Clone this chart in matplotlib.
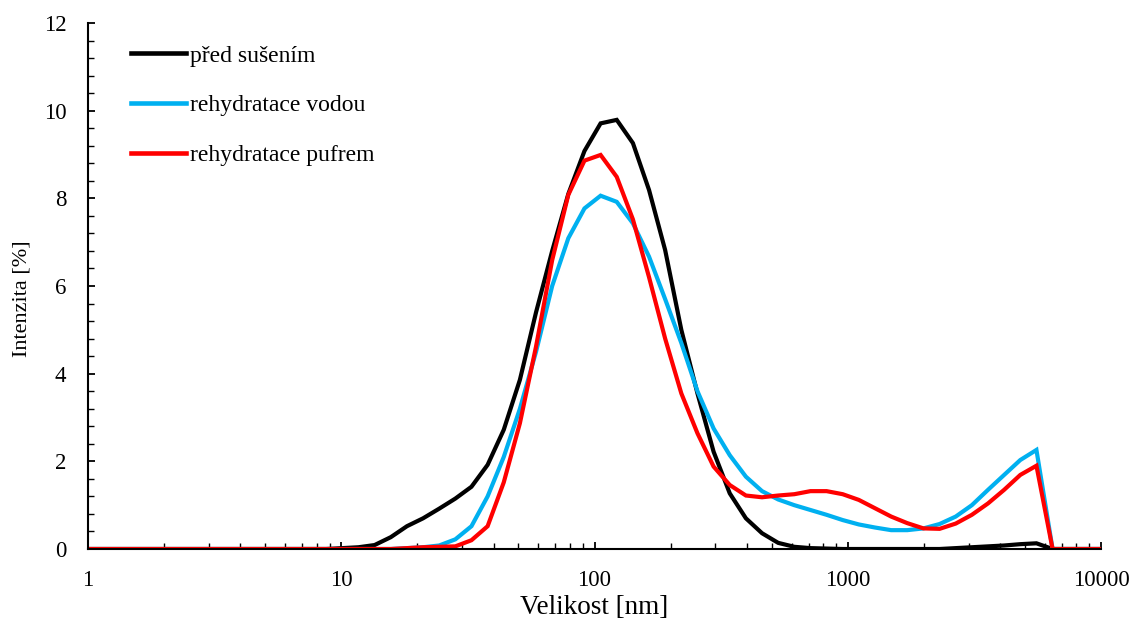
import matplotlib
matplotlib.use("Agg")
import matplotlib.pyplot as plt
from matplotlib.ticker import LogLocator, MultipleLocator, NullFormatter, FixedLocator, FixedFormatter

plt.rcParams['font.family'] = ['Liberation Serif', 'DejaVu Serif']

# size bins [nm]
size_nm = [0.4, 0.4632, 0.5365, 0.6213, 0.7195, 0.8332, 0.9649, 1.117, 1.294, 1.499,
           1.736, 2.010, 2.328, 2.696, 3.122, 3.615, 4.187, 4.849, 5.615, 6.503,
           7.531, 8.721, 10.10, 11.70, 13.54, 15.69, 18.17, 21.04, 24.36, 28.21,
           32.67, 37.84, 43.82, 50.75, 58.77, 68.06, 78.82, 91.28, 105.7, 122.4,
           141.8, 164.2, 190.1, 220.2, 255.0, 295.3, 342.0, 396.1, 458.7, 531.2,
           615.1, 712.4, 825.0, 955.4, 1106, 1281, 1484, 1718, 1990, 2305,
           2669, 3091, 3580, 4145, 4801, 5560, 6439, 7456, 8635, 10000]

pred_suseni = [0]*22 + [0.02, 0.04, 0.09, 0.27, 0.52, 0.70, 0.92, 1.15,
               1.42, 1.92, 2.72, 3.86, 5.40, 6.80, 8.10, 9.08, 9.71, 9.79,
               9.26, 8.19, 6.82, 5.00, 3.55, 2.22, 1.27, 0.70, 0.36, 0.14,
               0.05, 0.02, 0.01, 0, 0, 0, 0, 0, 0, 0,
               0.02, 0.04, 0.06, 0.08, 0.11, 0.13, 0, 0, 0, 0]

rehydratace_vodou = [0]*22 + [0, 0, 0, 0, 0.02, 0.04, 0.08, 0.22,
                     0.52, 1.20, 2.10, 3.20, 4.50, 6.00, 7.09, 7.77, 8.06, 7.92,
                     7.43, 6.67, 5.70, 4.70, 3.60, 2.75, 2.14, 1.65, 1.32, 1.13,
                     1.00, 0.89, 0.78, 0.66, 0.56, 0.49, 0.43, 0.43, 0.47, 0.57,
                     0.74, 1.00, 1.35, 1.69, 2.03, 2.26, 0, 0, 0, 0]

rehydratace_pufrem = [0]*22 + [0, 0, 0, 0, 0.02, 0.04, 0.05, 0.06,
                      0.20, 0.52, 1.52, 2.87, 4.62, 6.59, 8.08, 8.86, 8.99, 8.49,
                      7.52, 6.20, 4.80, 3.55, 2.64, 1.88, 1.46, 1.22, 1.18, 1.22,
                      1.25, 1.32, 1.32, 1.25, 1.12, 0.93, 0.74, 0.59, 0.47, 0.46,
                      0.58, 0.78, 1.04, 1.35, 1.69, 1.90, 0, 0, 0, 0]

labels = ['před sušením', 'rehydratace vodou', 'rehydratace pufrem']
colors = ['#000000', '#00B0F0', '#FF0000']
x_ticks = [1, 10, 100, 1000, 10000]
x_ticklabels = ['1', '10', '100', '1000', '10000']

W, H = 1132, 625
fig = plt.figure(figsize=(W/100, H/100), dpi=100)
ax = fig.add_axes([88/W, 1-549/H, (1101-88)/W, (549-23)/H])

for ys, lab, c in zip([pred_suseni, rehydratace_vodou, rehydratace_pufrem], labels, colors):
    ax.plot(size_nm, ys, color=c, lw=3.0, label=lab, solid_joinstyle='miter', clip_on=True)

ax.set_xscale('log')
ax.set_xlim(1, 10000)
ax.set_ylim(0, 12)
ax.xaxis.set_major_locator(FixedLocator(x_ticks))
ax.xaxis.set_major_formatter(FixedFormatter(x_ticklabels))
ax.xaxis.set_minor_locator(LogLocator(base=10, subs=range(2, 10)))
ax.xaxis.set_minor_formatter(NullFormatter())
ax.yaxis.set_major_locator(MultipleLocator(2))
ax.yaxis.set_minor_locator(MultipleLocator(0.4))

for s in ['top', 'right']:
    ax.spines[s].set_visible(False)
for s in ['left', 'bottom']:
    ax.spines[s].set_linewidth(1.5)

ax.tick_params(axis='both', which='major', direction='in', length=5, width=1.3,
               labelsize=16.5)
ax.tick_params(axis='both', which='minor', direction='in', length=4, width=1.0)
ax.tick_params(axis='y', which='major', pad=15.5)
ax.tick_params(axis='x', which='major', pad=15)

ax.set_xlabel('Velikost [nm]', fontsize=19.5)
ax.xaxis.set_label_coords(0.5, -0.0875)
ax.set_ylabel('Intenzita [%]', fontsize=16)
ax.yaxis.set_label_coords(-0.0553, 0.475)

leg = ax.legend(loc='upper left', bbox_to_anchor=(0.0425, 0.958), frameon=False,
                fontsize=17, handlelength=2.33, handletextpad=0.15, labelspacing=1.2,
                borderpad=0, borderaxespad=0)
for h in leg.get_lines():
    h.set_linewidth(3.3)

fig.savefig('out.png', dpi=100)
